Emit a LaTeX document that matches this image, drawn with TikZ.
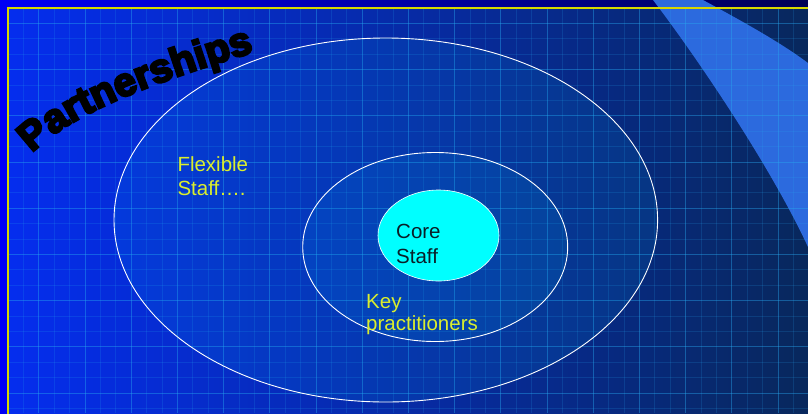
\documentclass[tikz,border=0pt]{standalone}
\usepackage{fontspec}
\setmainfont{Liberation Sans}
\newfontfamily\heavyfont[BoldFeatures={FakeBold=6}]{Liberation Sans}
\usetikzlibrary{decorations.text,shapes.geometric}
\definecolor{stripL}{RGB}{0,0,245}
\definecolor{stripR}{RGB}{0,0,85}
\definecolor{bgL}{RGB}{5,45,238}
\definecolor{bgM}{RGB}{5,42,180}
\definecolor{bgR}{RGB}{8,40,92}
\definecolor{beamc}{RGB}{44,106,222}
\definecolor{gridc}{RGB}{40,170,240}
\definecolor{framec}{RGB}{215,215,0}
\definecolor{ylw}{RGB}{218,238,45}
\definecolor{corec}{RGB}{0,255,255}
\definecolor{coretext}{RGB}{10,30,40}
\tikzset{
  gridminor/.style={draw=gridc, opacity=0.17, line width=0.7pt},
  gridmajor/.style={draw=gridc, opacity=0.3, line width=0.8pt},
  ring/.style={ellipse, draw=white, line width=0.9pt, inner sep=0pt, fill=cyan, fill opacity=0.1},
  lbl/.style={font=\fontsize{20.5}{24}\selectfont, text=ylw, inner sep=0pt, anchor=base west},
  corelbl/.style={font=\fontsize{20.5}{24}\selectfont, text=coretext, inner sep=0pt, anchor=base west}
}
\begin{document}
\begin{tikzpicture}[x=1pt,y=-1pt]
\useasboundingbox (0,0) rectangle (808,413);
% outer strips
\fill[left color=stripL, right color=stripR] (0,0) rectangle (808,413);
% main background
\fill[left color=bgL, middle color=bgM, right color=bgR] (8,8) rectangle (808,413);
% light beam
\fill[beamc] (653,0) .. controls (695,55) and (770,165) .. (808,247) -- (808,63) .. controls (780,42) and (740,20) .. (703,0) -- cycle;
% grid
\begin{scope}
\clip (8,8) rectangle (808,413);
\foreach \i in {0,...,52} { \draw[gridminor] ({8+15.4*\i},8) -- ({8+15.4*\i},413); }
\foreach \j in {0,...,27} { \draw[gridminor] (8,{8+15.4*\j}) -- (808,{8+15.4*\j}); }
\foreach \i in {2,5,...,52} { \draw[gridmajor] ({8+15.4*\i},8) -- ({8+15.4*\i},413); }
\foreach \j in {1,4,...,27} { \draw[gridmajor] (8,{8+15.4*\j}) -- (808,{8+15.4*\j}); }
\end{scope}
% frame line
\draw[framec, line width=1.5pt] (8,420) -- (8,8) -- (815,8);
% ellipses
\node[ring, minimum width=543.6pt, minimum height=364pt] (flex) at (385.8,220) {};
\node[ring, minimum width=265pt, minimum height=189pt] (key) at (435.2,247) {};
\node[ellipse, draw=white, line width=0.6pt, fill=corec, inner sep=0pt, minimum width=121pt, minimum height=91pt] (core) at (438.5,235.5) {};
% labels
\node[lbl] (flexA) at (177.3,171.7) {Flexible};
\node[lbl] (flexB) at (177.3,195) {Staff….};
\node[corelbl] (coreA) at (396,238.3) {Core};
\node[corelbl] (coreB) at (396,263.3) {Staff};
\node[lbl] (keyA) at (366,308.3) {Key};
\node[lbl] (keyB) at (366,330.5) {practitioners};
% curved title
\path[decorate, decoration={text along path, text={|\heavyfont\bfseries\fontsize{40}{40}\selectfont|Partnerships}, text align={fit to path}}]
  (32,153) .. controls (72,112) and (160,80) .. (254,52);
\end{tikzpicture}
\end{document}
